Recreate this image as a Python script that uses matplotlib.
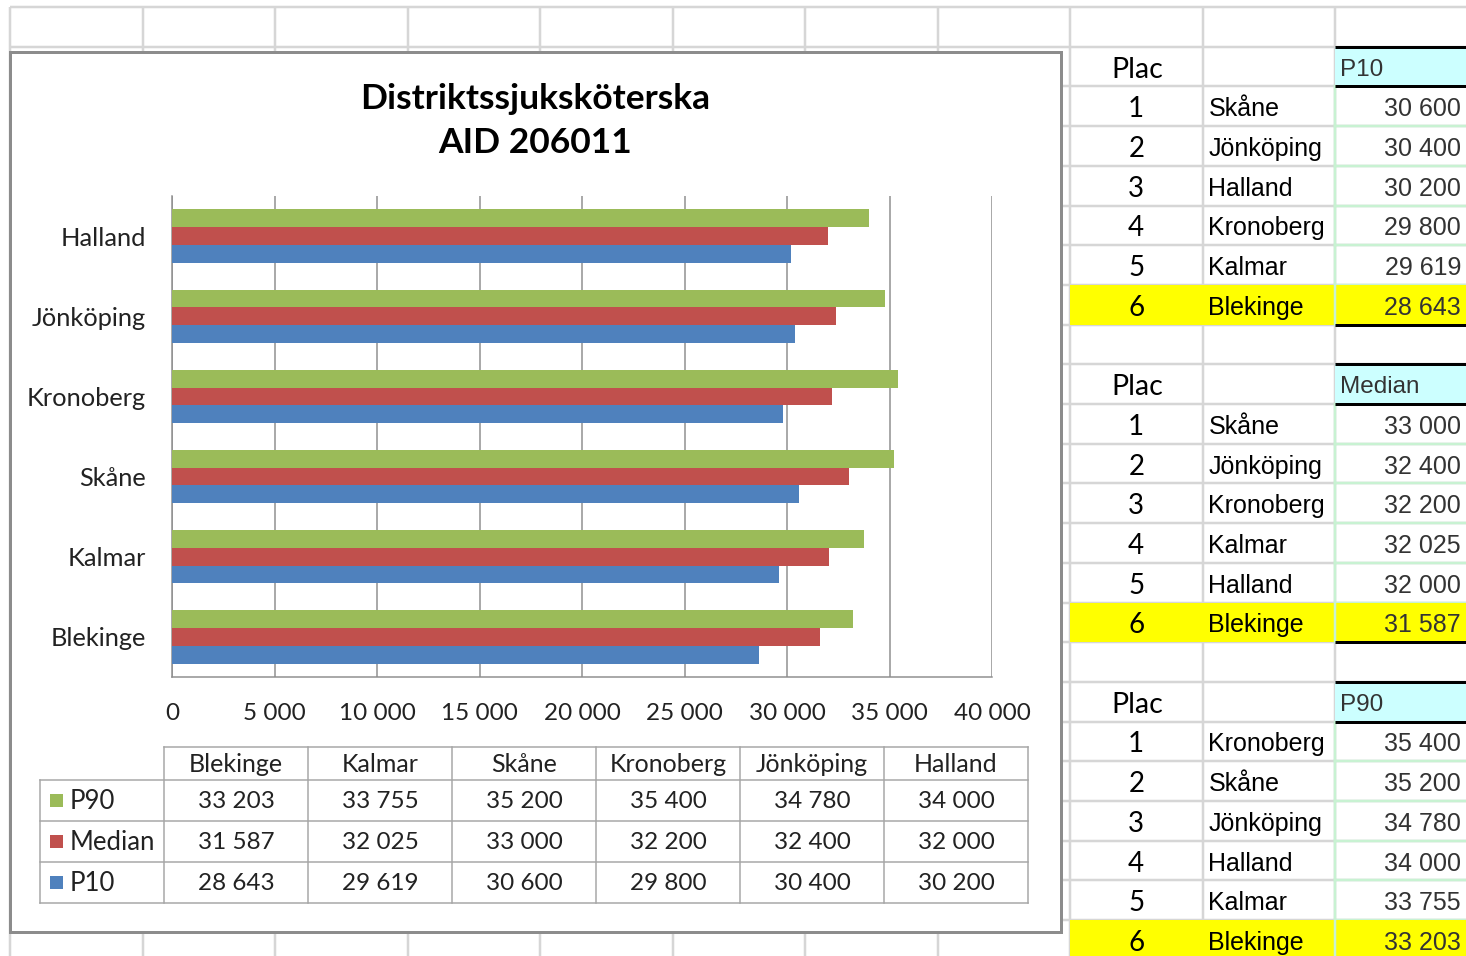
import matplotlib
matplotlib.use("Agg")
import matplotlib.pyplot as plt
from matplotlib.patches import Rectangle

# ---------------- data ----------------
categories = ["Blekinge", "Kalmar", "Skåne", "Kronoberg", "Jönköping", "Halland"]
p90 = [33203, 33755, 35200, 35400, 34780, 34000]
median = [31587, 32025, 33000, 32200, 32400, 32000]
p10 = [28643, 29619, 30600, 29800, 30400, 30200]
series_names = ["P90", "Median", "P10"]
series_colors = ["#9BBB59", "#C0504D", "#4F81BD"]
title_lines = ["Distriktssjuksköterska", "AID 206011"]
xticks = [0, 5000, 10000, 15000, 20000, 25000, 30000, 35000, 40000]
rank_header = "Plac"
rank_blocks = [("P10", p10), ("Median", median), ("P90", p90)]


def fmt(v):
    return f"{v:,}".replace(",", " ")


W, H = 1466, 956
fig = plt.figure(figsize=(W / 100, H / 100), dpi=100)
fig.patch.set_facecolor("white")
bg = fig.add_axes([0, 0, 1, 1])
bg.set_xlim(0, W)
bg.set_ylim(H, 0)
bg.axis("off")

PX = 0.72  # points per pixel
CAL = "Lato"
ARI = "Liberation Sans"

# ---------------- spreadsheet grid ----------------
grid_c = "#D6D6D6"
col_edges = [10 + 132.5 * i for i in range(12)]
row_edges = [7 + 39.7 * i for i in range(25)]
for x in col_edges:
    bg.plot([x, x], [7, H], color=grid_c, lw=2.5 * PX, zorder=1, solid_capstyle="butt")
for y in row_edges:
    bg.plot([10, W], [y, y], color=grid_c, lw=2.5 * PX, zorder=1, solid_capstyle="butt")

# ---------------- ranking tables (right) ----------------
cx0, cx1, cx2, cx3 = col_edges[8], col_edges[9], col_edges[10], W
for b, (hdr, vals) in enumerate(rank_blocks):
    hr = 1 + 8 * b
    y0, y1 = row_edges[hr], row_edges[hr + 1]
    yc = (y0 + y1) / 2
    bg.text((cx0 + cx1) / 2 + 1, yc + 3, rank_header, family=CAL, fontsize=20.5,
            ha="center", va="center", color="black", zorder=5)
    bg.add_patch(Rectangle((cx2, y0), cx3 - cx2, y1 - y0, facecolor="#CCFFFF",
                           edgecolor="none", zorder=2))
    bg.text(cx2 + 5, yc + 3, hdr, family=ARI, fontsize=17.5, ha="left", va="center",
            color="#333333", zorder=5)
    order = sorted(range(len(categories)), key=lambda i: -vals[i])
    for r, i in enumerate(order):
        ry0, ry1 = row_edges[hr + 1 + r], row_edges[hr + 2 + r]
        ryc = (ry0 + ry1) / 2
        if r == len(order) - 1:
            bg.add_patch(Rectangle((cx0, ry0), cx3 - cx0, ry1 - ry0,
                                   facecolor="#FFFF00", edgecolor="none", zorder=2))
        else:
            bg.plot([cx2, cx3], [ry1, ry1], color="#C8F2D2", lw=2.5 * PX, zorder=2)
        bg.plot([cx2, cx2], [ry0, ry1], color="#C8F2D2", lw=2.5 * PX, zorder=2)
        bg.text((cx0 + cx1) / 2, ryc + 3, str(r + 1), family=CAL, fontsize=20,
                ha="center", va="center", color="black", zorder=5)
        bg.text(cx1 + 6, ryc + 3, categories[i], family=ARI, fontsize=18,
                ha="left", va="center", color="black", zorder=5)
        bg.text(cx3 - 5, ryc + 3, fmt(vals[i]), family=ARI, fontsize=18,
                ha="right", va="center", color="#333333", zorder=5)
    # thick borders
    bot = row_edges[hr + 7]
    for yy in (y0, y1, bot):
        bg.plot([cx2, cx3], [yy, yy], color="black", lw=3 * PX, zorder=4,
                solid_capstyle="butt")

# ---------------- chart frame ----------------
bg.add_patch(Rectangle((10, 52), 1051, 880, facecolor="white", edgecolor="#8C8C8C",
                       lw=3 * PX, zorder=3))
bg.text(535, 99, title_lines[0], family=CAL, fontweight="bold", fontsize=25.5,
        ha="center", va="center", color="black", zorder=5)
bg.text(535, 143, title_lines[1], family=CAL, fontweight="bold", fontsize=25.5,
        ha="center", va="center", color="black", zorder=5)

# ---------------- data table under chart ----------------
tc = "#A6A6A6"
tx = [40] + [164 + 144 * k for k in range(7)]
ty = [747, 780, 821, 862, 903]
bg.plot([tx[1], tx[-1]], [ty[0], ty[0]], color=tc, lw=1.5 * PX, zorder=4)
for y in ty[1:]:
    bg.plot([tx[0], tx[-1]], [y, y], color=tc, lw=1.5 * PX, zorder=4)
bg.plot([tx[0], tx[0]], [ty[1], ty[-1]], color=tc, lw=1.5 * PX, zorder=4)
for x in tx[1:]:
    bg.plot([x, x], [ty[0], ty[-1]], color=tc, lw=1.5 * PX, zorder=4)
for k, cat in enumerate(categories):
    bg.text((tx[k + 1] + tx[k + 2]) / 2, (ty[0] + ty[1]) / 2 + 1, cat, family=CAL,
            fontsize=18, ha="center", va="center", color="#222222", zorder=5)
all_series = [p90, median, p10]
for s, (name, col, vals) in enumerate(zip(series_names, series_colors, all_series)):
    yc = (ty[s + 1] + ty[s + 2]) / 2
    bg.add_patch(Rectangle((50, yc - 7), 13, 13, facecolor=col, edgecolor="none", zorder=5))
    bg.text(70, yc + 1, name, family=CAL, fontsize=18.5, ha="left", va="center",
            color="#222222", zorder=5)
    for k, v in enumerate(vals):
        bg.text((tx[k + 1] + tx[k + 2]) / 2, yc + 1, fmt(v), family=CAL, fontsize=17.5,
                ha="center", va="center", color="#222222", zorder=5)

# ---------------- bar chart ----------------
ax = fig.add_axes([172 / W, 1 - 677 / H, 820 / W, 481 / H])
ax.set_facecolor("none")
h = 1 / 1.5 / 3
ypos = list(range(len(categories)))
for s, (vals, col) in enumerate(zip(all_series, series_colors)):
    off = h * (1 - s)
    ax.barh([y + off for y in ypos], vals, height=h, color=col, zorder=3)
ax.set_xlim(0, 40000)
ax.set_ylim(-0.5, len(categories) - 0.5)
ax.set_xticks(xticks)
ax.set_xticklabels([fmt(v) for v in xticks], family=CAL, fontsize=17.5, color="#222222")
ax.set_yticks(ypos)
ax.set_yticklabels(categories, family=CAL, fontsize=18.3, color="#222222")
ax.tick_params(axis="both", length=0)
ax.tick_params(axis="x", pad=19)
ax.tick_params(axis="y", pad=19)
ax.grid(axis="x", color="#8E8E8E", lw=1.5 * PX, zorder=1)
ax.set_axisbelow(True)
for sp in ["top", "right"]:
    ax.spines[sp].set_visible(False)
for sp in ["left", "bottom"]:
    ax.spines[sp].set_color("#8E8E8E")
    ax.spines[sp].set_linewidth(1.5 * PX)

fig.savefig("out.png", dpi=100)
